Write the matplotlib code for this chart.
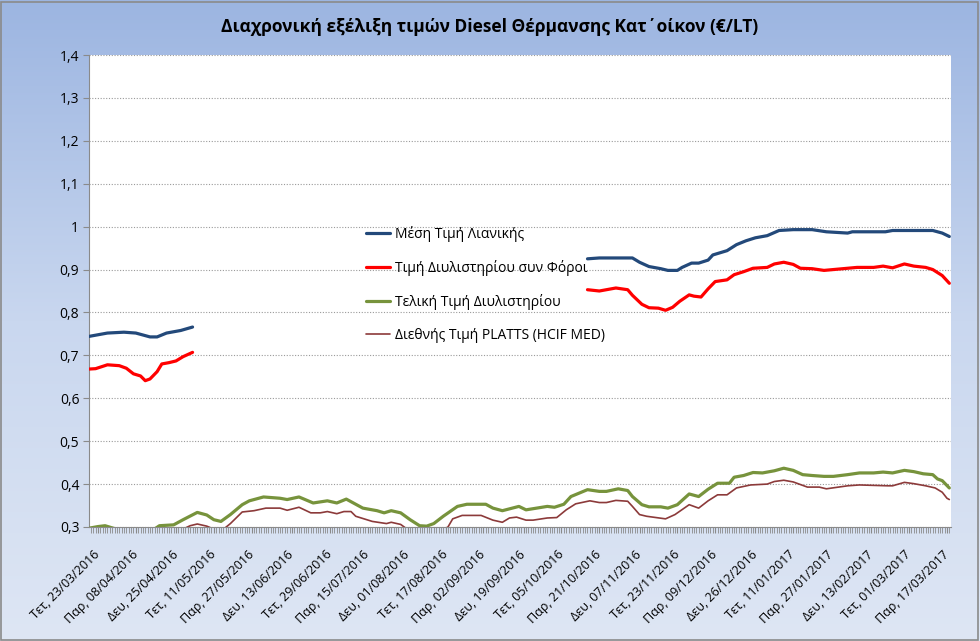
import matplotlib
matplotlib.use("Agg")
import matplotlib.pyplot as plt
import matplotlib.dates as mdates
from matplotlib.colors import LinearSegmentedColormap
from matplotlib.patches import Rectangle
import numpy as np
import pandas as pd

plt.rcParams['font.family'] = ['Open Sans', 'DejaVu Sans']

title = "Διαχρονική εξέλιξη τιμών Diesel Θέρμανσης Κατ΄οίκον (€/LT)"
series_names = ["Μέση Τιμή Λιανικής", "Τιμή Διυλιστηρίου συν Φόροι",
                "Τελική Τιμή Διυλιστηρίου", "Διεθνής Τιμή PLATTS (HCIF MED)"]

# Μέση Τιμή Λιανικής (gap between early May and mid October)
retail_dates = ["2016-03-19", "2016-03-27", "2016-04-03", "2016-04-08", "2016-04-14", "2016-04-17",
                "2016-04-21", "2016-04-27", "2016-05-02", "2016-05-03",
                "2016-10-15", "2016-10-16", "2016-10-21", "2016-11-04", "2016-11-07", "2016-11-11",
                "2016-11-16", "2016-11-19", "2016-11-23", "2016-11-25", "2016-11-29", "2016-12-02",
                "2016-12-06", "2016-12-08", "2016-12-14", "2016-12-18", "2016-12-22", "2016-12-26",
                "2016-12-31", "2017-01-05", "2017-01-11", "2017-01-19", "2017-01-25", "2017-02-03",
                "2017-02-05", "2017-02-19", "2017-02-22", "2017-03-11", "2017-03-15", "2017-03-18"]
retail_vals = [0.744, 0.752, 0.754, 0.752, 0.743, 0.743, 0.752, 0.758, 0.766, np.nan,
               np.nan, 0.925, 0.927, 0.927, 0.917, 0.907, 0.902, 0.898, 0.898, 0.905, 0.915, 0.915,
               0.922, 0.934, 0.944, 0.958, 0.967, 0.974, 0.979, 0.991, 0.993, 0.993, 0.988, 0.985,
               0.988, 0.988, 0.991, 0.991, 0.985, 0.977]

# Τιμή Διυλιστηρίου συν Φόροι
reftax_dates = ["2016-03-19", "2016-03-22", "2016-03-27", "2016-04-01", "2016-04-04", "2016-04-07",
                "2016-04-10", "2016-04-12", "2016-04-14", "2016-04-17", "2016-04-19", "2016-04-22",
                "2016-04-25", "2016-04-28", "2016-05-02", "2016-05-03",
                "2016-10-15", "2016-10-16", "2016-10-21", "2016-10-28", "2016-11-02", "2016-11-04",
                "2016-11-08", "2016-11-11", "2016-11-15", "2016-11-18", "2016-11-21", "2016-11-24",
                "2016-11-28", "2016-11-30", "2016-12-03", "2016-12-06", "2016-12-09", "2016-12-14",
                "2016-12-17", "2016-12-21", "2016-12-25", "2016-12-31", "2017-01-03", "2017-01-07",
                "2017-01-11", "2017-01-14", "2017-01-19", "2017-01-24", "2017-02-01", "2017-02-07",
                "2017-02-14", "2017-02-18", "2017-02-22", "2017-02-27", "2017-03-03", "2017-03-08",
                "2017-03-11", "2017-03-15", "2017-03-18"]
reftax_vals = [0.668, 0.669, 0.678, 0.676, 0.670, 0.657, 0.652, 0.641, 0.645, 0.662, 0.680, 0.683,
               0.687, 0.697, 0.707, np.nan,
               np.nan, 0.853, 0.850, 0.857, 0.853, 0.840, 0.819, 0.811, 0.810, 0.805, 0.812, 0.826,
               0.841, 0.838, 0.836, 0.855, 0.872, 0.876, 0.888, 0.895, 0.903, 0.905, 0.913, 0.917,
               0.912, 0.903, 0.902, 0.898, 0.902, 0.905, 0.905, 0.908, 0.904, 0.913, 0.908, 0.905,
               0.900, 0.886, 0.868]

# Τελική Τιμή Διυλιστηρίου
refinal_dates = ["2016-03-19", "2016-03-23", "2016-03-26", "2016-03-29", "2016-04-03", "2016-04-10",
                 "2016-04-15", "2016-04-18", "2016-04-24", "2016-04-28", "2016-05-04", "2016-05-08",
                 "2016-05-11", "2016-05-14", "2016-05-18", "2016-05-23", "2016-05-26", "2016-06-01",
                 "2016-06-08", "2016-06-11", "2016-06-16", "2016-06-22", "2016-06-28", "2016-07-02",
                 "2016-07-06", "2016-07-13", "2016-07-19", "2016-07-22", "2016-07-25", "2016-07-29",
                 "2016-08-02", "2016-08-06", "2016-08-09", "2016-08-12", "2016-08-16", "2016-08-22",
                 "2016-08-26", "2016-09-03", "2016-09-06", "2016-09-10", "2016-09-17", "2016-09-20",
                 "2016-09-29", "2016-10-02", "2016-10-06", "2016-10-09", "2016-10-16", "2016-10-21",
                 "2016-10-24", "2016-10-29", "2016-11-02", "2016-11-04", "2016-11-08", "2016-11-11",
                 "2016-11-16", "2016-11-19", "2016-11-23", "2016-11-28", "2016-12-02", "2016-12-06",
                 "2016-12-10", "2016-12-15", "2016-12-17", "2016-12-21", "2016-12-25", "2016-12-29",
                 "2017-01-03", "2017-01-07", "2017-01-11", "2017-01-15", "2017-01-19", "2017-01-24",
                 "2017-01-28", "2017-02-03", "2017-02-08", "2017-02-14", "2017-02-18", "2017-02-22",
                 "2017-02-27", "2017-03-03", "2017-03-07", "2017-03-11", "2017-03-13", "2017-03-15",
                 "2017-03-18"]
refinal_vals = [0.297, 0.301, 0.303, 0.298, 0.290, 0.287, 0.292, 0.303, 0.305, 0.317, 0.334, 0.328,
                0.317, 0.313, 0.329, 0.352, 0.361, 0.370, 0.367, 0.364, 0.370, 0.356, 0.361, 0.356,
                0.365, 0.344, 0.338, 0.333, 0.338, 0.333, 0.317, 0.303, 0.302, 0.308, 0.325, 0.348,
                0.353, 0.353, 0.344, 0.338, 0.348, 0.340, 0.348, 0.346, 0.353, 0.371, 0.387, 0.383,
                0.383, 0.389, 0.385, 0.371, 0.352, 0.347, 0.347, 0.344, 0.352, 0.377, 0.371, 0.388,
                0.402, 0.402, 0.416, 0.420, 0.427, 0.426, 0.431, 0.437, 0.432, 0.422, 0.420, 0.418,
                0.418, 0.422, 0.426, 0.426, 0.428, 0.426, 0.432, 0.429, 0.424, 0.422, 0.412, 0.408,
                0.391]

# Διεθνής Τιμή PLATTS (HCIF MED)
platts_dates = ["2016-03-19", "2016-03-26", "2016-04-03", "2016-04-10", "2016-04-18", "2016-04-24",
                "2016-05-01", "2016-05-04", "2016-05-08", "2016-05-11", "2016-05-14", "2016-05-18",
                "2016-05-23", "2016-05-28", "2016-06-02", "2016-06-08", "2016-06-11", "2016-06-16",
                "2016-06-21", "2016-06-25", "2016-06-28", "2016-07-02", "2016-07-05", "2016-07-08",
                "2016-07-10", "2016-07-17", "2016-07-23", "2016-07-25", "2016-07-29", "2016-07-31",
                "2016-08-06", "2016-08-12", "2016-08-18", "2016-08-20", "2016-08-24", "2016-09-01",
                "2016-09-06", "2016-09-10", "2016-09-13", "2016-09-16", "2016-09-20", "2016-09-23",
                "2016-09-29", "2016-10-03", "2016-10-07", "2016-10-11", "2016-10-17", "2016-10-21",
                "2016-10-24", "2016-10-28", "2016-11-02", "2016-11-04", "2016-11-07", "2016-11-10",
                "2016-11-14", "2016-11-18", "2016-11-22", "2016-11-28", "2016-12-02", "2016-12-06",
                "2016-12-10", "2016-12-14", "2016-12-18", "2016-12-24", "2016-12-31", "2017-01-03",
                "2017-01-07", "2017-01-11", "2017-01-17", "2017-01-22", "2017-01-25", "2017-02-03",
                "2017-02-08", "2017-02-14", "2017-02-20", "2017-02-22", "2017-02-27", "2017-03-03",
                "2017-03-08", "2017-03-12", "2017-03-15", "2017-03-17", "2017-03-18"]
platts_vals = [0.275, 0.280, 0.270, 0.265, 0.272, 0.285, 0.303, 0.307, 0.302, 0.295, 0.290, 0.308,
               0.335, 0.338, 0.344, 0.344, 0.339, 0.346, 0.333, 0.333, 0.336, 0.331, 0.336, 0.336,
               0.325, 0.313, 0.308, 0.311, 0.306, 0.298, 0.285, 0.283, 0.300, 0.319, 0.327, 0.327,
               0.316, 0.311, 0.321, 0.323, 0.316, 0.316, 0.321, 0.322, 0.340, 0.354, 0.361, 0.357,
               0.357, 0.362, 0.360, 0.348, 0.329, 0.325, 0.322, 0.319, 0.329, 0.352, 0.344, 0.361,
               0.375, 0.375, 0.391, 0.398, 0.400, 0.406, 0.409, 0.405, 0.393, 0.393, 0.389, 0.396,
               0.398, 0.397, 0.396, 0.396, 0.404, 0.401, 0.396, 0.391, 0.381, 0.367, 0.364]

tick_labels = ["Τετ, 23/03/2016", "Παρ, 08/04/2016", "Δευ, 25/04/2016", "Τετ, 11/05/2016",
               "Παρ, 27/05/2016", "Δευ, 13/06/2016", "Τετ, 29/06/2016", "Παρ, 15/07/2016",
               "Δευ, 01/08/2016", "Τετ, 17/08/2016", "Παρ, 02/09/2016", "Δευ, 19/09/2016",
               "Τετ, 05/10/2016", "Παρ, 21/10/2016", "Δευ, 07/11/2016", "Τετ, 23/11/2016",
               "Παρ, 09/12/2016", "Δευ, 26/12/2016", "Τετ, 11/01/2017", "Παρ, 27/01/2017",
               "Δευ, 13/02/2017", "Τετ, 01/03/2017", "Παρ, 17/03/2017"]
y_ticks = [0.3, 0.4, 0.5, 0.6, 0.7, 0.8, 0.9, 1.0, 1.1, 1.2, 1.3, 1.4]

colors = ["#23497A", "#FF0000", "#77933C", "#8C3A3A"]
widths = [2.3, 2.3, 2.3, 1.2]

fig = plt.figure(figsize=(9.8, 6.41), dpi=100)

# gradient background
bg = fig.add_axes([0, 0, 1, 1], zorder=-10)
cmap = LinearSegmentedColormap.from_list("bg", ["#DEE6F4", "#C9D7EF", "#9CB5E1"])
grad = np.linspace(0, 1, 256).reshape(-1, 1)
bg.imshow(grad, aspect='auto', cmap=cmap, extent=[0, 1, 0, 1], origin='lower')
bg.set_xlim(0, 1); bg.set_ylim(0, 1)
bg.axis('off')
bg.add_patch(Rectangle((0.001, 0.0015), 0.997, 0.996, fill=False, edgecolor="#8A8A8A", lw=1.2,
                       transform=bg.transAxes))

ax = fig.add_axes([89 / 980, 114 / 641, 862 / 980, 472 / 641])
ax.set_facecolor("white")

all_series = [(retail_dates, retail_vals), (reftax_dates, reftax_vals),
              (refinal_dates, refinal_vals), (platts_dates, platts_vals)]
for (d, v), name, c, w in zip(all_series, series_names, colors, widths):
    ax.plot(pd.to_datetime(d), v, color=c, lw=w, label=name, solid_capstyle='round', zorder=3)

ax.set_ylim(0.3, 1.4)
ax.set_yticks(y_ticks)
ax.set_yticklabels([f"{t:.1f}".replace(".", ",").replace("1,0", "1") for t in y_ticks], fontsize=10)
ax.yaxis.grid(True, linestyle=(0, (1, 1.5)), color="#9A9A9A", lw=0.8)
ax.set_axisbelow(True)

ax.set_xlim(pd.Timestamp("2016-03-19 05:00"), pd.Timestamp("2017-03-18 17:00"))
tick_dates = pd.to_datetime([s.split(", ")[1] for s in tick_labels], format="%d/%m/%Y")
ax.set_xticks(tick_dates)
ax.set_xticklabels(tick_labels, rotation=45, ha='right', va='center', rotation_mode='anchor',
                   fontsize=9)
ax.xaxis.set_minor_locator(mdates.DayLocator())
ax.tick_params(axis='x', which='both', length=4, color="#8A8A8A", pad=14.5)
ax.tick_params(axis='y', length=4, color="#8A8A8A", pad=3)

for side in ["top", "right"]:
    ax.spines[side].set_visible(False)
for side in ["left", "bottom"]:
    ax.spines[side].set_color("#8A8A8A")

leg = ax.legend(loc='upper left', frameon=False,
                fontsize=10, handlelength=1.75, handletextpad=0.35, labelspacing=1.3,
                borderaxespad=0, borderpad=0)
leg.set_bbox_to_anchor((366 / 980, (641 - 226) / 641), transform=fig.transFigure)

fig.text(0.5, 1 - 27 / 641, title, ha='center', va='center', fontsize=12.5, fontweight='bold')

fig.savefig("out.png", dpi=100)
